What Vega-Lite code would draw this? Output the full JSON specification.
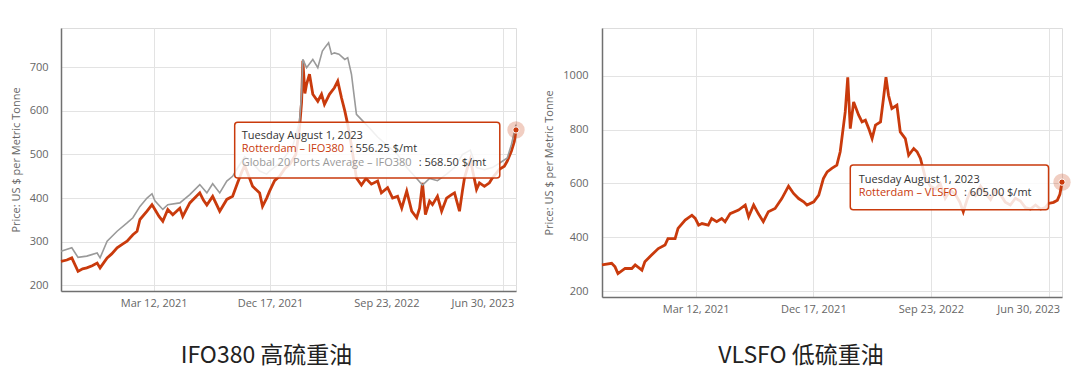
{
  "$schema": "https://vega.github.io/schema/vega-lite/v6.json",
  "background": "white",
  "padding": {"left": 9, "top": 27, "right": 10, "bottom": 5},
  "bounds": "flush",
  "spacing": 86,
  "config": {
    "font": "Open Sans",
    "view": {"stroke": "#dddddd"},
    "axis": {
      "labelFont": "Open Sans", "labelFontSize": 11, "labelColor": "#666666",
      "titleFont": "Open Sans", "titleFontSize": 11, "titleColor": "#666666", "titleFontWeight": "normal",
      "gridColor": "#e3e3e3", "domainColor": "#707070", "domainWidth": 1.5, "ticks": false
    },
    "title": {"font": "Noto Sans CJK SC", "fontSize": 23, "fontWeight": "normal", "color": "#222222"}
  },
  "datasets": {
    "ifo": [
      {"date": "2020-08-01", "series": "Rotterdam - IFO380", "price": 255},
      {"date": "2020-08-15", "series": "Rotterdam - IFO380", "price": 258},
      {"date": "2020-08-27", "series": "Rotterdam - IFO380", "price": 263},
      {"date": "2020-09-11", "series": "Rotterdam - IFO380", "price": 232},
      {"date": "2020-09-22", "series": "Rotterdam - IFO380", "price": 238},
      {"date": "2020-10-02", "series": "Rotterdam - IFO380", "price": 240},
      {"date": "2020-10-15", "series": "Rotterdam - IFO380", "price": 245},
      {"date": "2020-10-27", "series": "Rotterdam - IFO380", "price": 251},
      {"date": "2020-11-03", "series": "Rotterdam - IFO380", "price": 240},
      {"date": "2020-11-20", "series": "Rotterdam - IFO380", "price": 263},
      {"date": "2020-12-01", "series": "Rotterdam - IFO380", "price": 272},
      {"date": "2020-12-14", "series": "Rotterdam - IFO380", "price": 286},
      {"date": "2020-12-28", "series": "Rotterdam - IFO380", "price": 295},
      {"date": "2021-01-07", "series": "Rotterdam - IFO380", "price": 301},
      {"date": "2021-01-21", "series": "Rotterdam - IFO380", "price": 316},
      {"date": "2021-01-31", "series": "Rotterdam - IFO380", "price": 324},
      {"date": "2021-02-07", "series": "Rotterdam - IFO380", "price": 351},
      {"date": "2021-02-24", "series": "Rotterdam - IFO380", "price": 370},
      {"date": "2021-03-08", "series": "Rotterdam - IFO380", "price": 385},
      {"date": "2021-03-15", "series": "Rotterdam - IFO380", "price": 374},
      {"date": "2021-03-25", "series": "Rotterdam - IFO380", "price": 358},
      {"date": "2021-04-03", "series": "Rotterdam - IFO380", "price": 347},
      {"date": "2021-04-15", "series": "Rotterdam - IFO380", "price": 374},
      {"date": "2021-04-27", "series": "Rotterdam - IFO380", "price": 362},
      {"date": "2021-05-14", "series": "Rotterdam - IFO380", "price": 377},
      {"date": "2021-05-21", "series": "Rotterdam - IFO380", "price": 358},
      {"date": "2021-06-07", "series": "Rotterdam - IFO380", "price": 389},
      {"date": "2021-07-01", "series": "Rotterdam - IFO380", "price": 412},
      {"date": "2021-07-10", "series": "Rotterdam - IFO380", "price": 395},
      {"date": "2021-07-18", "series": "Rotterdam - IFO380", "price": 384},
      {"date": "2021-08-01", "series": "Rotterdam - IFO380", "price": 404},
      {"date": "2021-08-18", "series": "Rotterdam - IFO380", "price": 370},
      {"date": "2021-09-04", "series": "Rotterdam - IFO380", "price": 397},
      {"date": "2021-09-18", "series": "Rotterdam - IFO380", "price": 404},
      {"date": "2021-09-30", "series": "Rotterdam - IFO380", "price": 435},
      {"date": "2021-10-10", "series": "Rotterdam - IFO380", "price": 460},
      {"date": "2021-10-17", "series": "Rotterdam - IFO380", "price": 475},
      {"date": "2021-10-25", "series": "Rotterdam - IFO380", "price": 455},
      {"date": "2021-11-05", "series": "Rotterdam - IFO380", "price": 427},
      {"date": "2021-11-22", "series": "Rotterdam - IFO380", "price": 412},
      {"date": "2021-11-29", "series": "Rotterdam - IFO380", "price": 381},
      {"date": "2021-12-09", "series": "Rotterdam - IFO380", "price": 400},
      {"date": "2021-12-16", "series": "Rotterdam - IFO380", "price": 416},
      {"date": "2021-12-28", "series": "Rotterdam - IFO380", "price": 440},
      {"date": "2022-01-09", "series": "Rotterdam - IFO380", "price": 450},
      {"date": "2022-01-22", "series": "Rotterdam - IFO380", "price": 468},
      {"date": "2022-02-03", "series": "Rotterdam - IFO380", "price": 478},
      {"date": "2022-02-17", "series": "Rotterdam - IFO380", "price": 500},
      {"date": "2022-02-26", "series": "Rotterdam - IFO380", "price": 560},
      {"date": "2022-03-03", "series": "Rotterdam - IFO380", "price": 620},
      {"date": "2022-03-06", "series": "Rotterdam - IFO380", "price": 715},
      {"date": "2022-03-11", "series": "Rotterdam - IFO380", "price": 640},
      {"date": "2022-03-15", "series": "Rotterdam - IFO380", "price": 661},
      {"date": "2022-03-22", "series": "Rotterdam - IFO380", "price": 684},
      {"date": "2022-03-30", "series": "Rotterdam - IFO380", "price": 638},
      {"date": "2022-04-11", "series": "Rotterdam - IFO380", "price": 622},
      {"date": "2022-04-20", "series": "Rotterdam - IFO380", "price": 638},
      {"date": "2022-04-27", "series": "Rotterdam - IFO380", "price": 615},
      {"date": "2022-05-09", "series": "Rotterdam - IFO380", "price": 638},
      {"date": "2022-05-21", "series": "Rotterdam - IFO380", "price": 653},
      {"date": "2022-05-29", "series": "Rotterdam - IFO380", "price": 668},
      {"date": "2022-06-07", "series": "Rotterdam - IFO380", "price": 630},
      {"date": "2022-06-15", "series": "Rotterdam - IFO380", "price": 600},
      {"date": "2022-06-22", "series": "Rotterdam - IFO380", "price": 569},
      {"date": "2022-07-01", "series": "Rotterdam - IFO380", "price": 520},
      {"date": "2022-07-13", "series": "Rotterdam - IFO380", "price": 446},
      {"date": "2022-07-25", "series": "Rotterdam - IFO380", "price": 430},
      {"date": "2022-08-05", "series": "Rotterdam - IFO380", "price": 445},
      {"date": "2022-08-18", "series": "Rotterdam - IFO380", "price": 432},
      {"date": "2022-09-02", "series": "Rotterdam - IFO380", "price": 439},
      {"date": "2022-09-11", "series": "Rotterdam - IFO380", "price": 412},
      {"date": "2022-09-26", "series": "Rotterdam - IFO380", "price": 424},
      {"date": "2022-10-08", "series": "Rotterdam - IFO380", "price": 400},
      {"date": "2022-10-20", "series": "Rotterdam - IFO380", "price": 404},
      {"date": "2022-10-30", "series": "Rotterdam - IFO380", "price": 377},
      {"date": "2022-11-11", "series": "Rotterdam - IFO380", "price": 416},
      {"date": "2022-11-23", "series": "Rotterdam - IFO380", "price": 370},
      {"date": "2022-12-05", "series": "Rotterdam - IFO380", "price": 355},
      {"date": "2022-12-12", "series": "Rotterdam - IFO380", "price": 377},
      {"date": "2022-12-19", "series": "Rotterdam - IFO380", "price": 435},
      {"date": "2022-12-26", "series": "Rotterdam - IFO380", "price": 362},
      {"date": "2023-01-05", "series": "Rotterdam - IFO380", "price": 393},
      {"date": "2023-01-12", "series": "Rotterdam - IFO380", "price": 385},
      {"date": "2023-01-24", "series": "Rotterdam - IFO380", "price": 404},
      {"date": "2023-02-03", "series": "Rotterdam - IFO380", "price": 370},
      {"date": "2023-02-15", "series": "Rotterdam - IFO380", "price": 400},
      {"date": "2023-02-27", "series": "Rotterdam - IFO380", "price": 408},
      {"date": "2023-03-06", "series": "Rotterdam - IFO380", "price": 412},
      {"date": "2023-03-18", "series": "Rotterdam - IFO380", "price": 370},
      {"date": "2023-03-25", "series": "Rotterdam - IFO380", "price": 416},
      {"date": "2023-03-30", "series": "Rotterdam - IFO380", "price": 446},
      {"date": "2023-04-06", "series": "Rotterdam - IFO380", "price": 469},
      {"date": "2023-04-13", "series": "Rotterdam - IFO380", "price": 489},
      {"date": "2023-04-28", "series": "Rotterdam - IFO380", "price": 420},
      {"date": "2023-05-05", "series": "Rotterdam - IFO380", "price": 435},
      {"date": "2023-05-17", "series": "Rotterdam - IFO380", "price": 427},
      {"date": "2023-05-29", "series": "Rotterdam - IFO380", "price": 435},
      {"date": "2023-06-05", "series": "Rotterdam - IFO380", "price": 446},
      {"date": "2023-06-22", "series": "Rotterdam - IFO380", "price": 466},
      {"date": "2023-07-04", "series": "Rotterdam - IFO380", "price": 473},
      {"date": "2023-07-11", "series": "Rotterdam - IFO380", "price": 485},
      {"date": "2023-07-21", "series": "Rotterdam - IFO380", "price": 508},
      {"date": "2023-07-28", "series": "Rotterdam - IFO380", "price": 530},
      {"date": "2023-08-01", "series": "Rotterdam - IFO380", "price": 556.25},
      {"date": "2020-08-01", "series": "Global 20 Ports Average - IFO380", "price": 278},
      {"date": "2020-08-27", "series": "Global 20 Ports Average - IFO380", "price": 286},
      {"date": "2020-09-11", "series": "Global 20 Ports Average - IFO380", "price": 264},
      {"date": "2020-10-02", "series": "Global 20 Ports Average - IFO380", "price": 267},
      {"date": "2020-10-27", "series": "Global 20 Ports Average - IFO380", "price": 274},
      {"date": "2020-11-03", "series": "Global 20 Ports Average - IFO380", "price": 263},
      {"date": "2020-11-20", "series": "Global 20 Ports Average - IFO380", "price": 301},
      {"date": "2020-12-14", "series": "Global 20 Ports Average - IFO380", "price": 324},
      {"date": "2021-01-07", "series": "Global 20 Ports Average - IFO380", "price": 343},
      {"date": "2021-01-21", "series": "Global 20 Ports Average - IFO380", "price": 355},
      {"date": "2021-02-07", "series": "Global 20 Ports Average - IFO380", "price": 381},
      {"date": "2021-02-24", "series": "Global 20 Ports Average - IFO380", "price": 400},
      {"date": "2021-03-08", "series": "Global 20 Ports Average - IFO380", "price": 410},
      {"date": "2021-03-15", "series": "Global 20 Ports Average - IFO380", "price": 394},
      {"date": "2021-04-03", "series": "Global 20 Ports Average - IFO380", "price": 374},
      {"date": "2021-04-15", "series": "Global 20 Ports Average - IFO380", "price": 385},
      {"date": "2021-05-14", "series": "Global 20 Ports Average - IFO380", "price": 389},
      {"date": "2021-06-07", "series": "Global 20 Ports Average - IFO380", "price": 408},
      {"date": "2021-07-01", "series": "Global 20 Ports Average - IFO380", "price": 431},
      {"date": "2021-07-18", "series": "Global 20 Ports Average - IFO380", "price": 412},
      {"date": "2021-08-01", "series": "Global 20 Ports Average - IFO380", "price": 433},
      {"date": "2021-08-18", "series": "Global 20 Ports Average - IFO380", "price": 412},
      {"date": "2021-09-04", "series": "Global 20 Ports Average - IFO380", "price": 439},
      {"date": "2021-09-18", "series": "Global 20 Ports Average - IFO380", "price": 450},
      {"date": "2021-09-30", "series": "Global 20 Ports Average - IFO380", "price": 469},
      {"date": "2021-10-17", "series": "Global 20 Ports Average - IFO380", "price": 495},
      {"date": "2021-11-05", "series": "Global 20 Ports Average - IFO380", "price": 480},
      {"date": "2021-11-22", "series": "Global 20 Ports Average - IFO380", "price": 462},
      {"date": "2021-12-09", "series": "Global 20 Ports Average - IFO380", "price": 455},
      {"date": "2021-12-16", "series": "Global 20 Ports Average - IFO380", "price": 462},
      {"date": "2022-01-09", "series": "Global 20 Ports Average - IFO380", "price": 480},
      {"date": "2022-01-22", "series": "Global 20 Ports Average - IFO380", "price": 495},
      {"date": "2022-02-10", "series": "Global 20 Ports Average - IFO380", "price": 520},
      {"date": "2022-02-26", "series": "Global 20 Ports Average - IFO380", "price": 575},
      {"date": "2022-03-03", "series": "Global 20 Ports Average - IFO380", "price": 640},
      {"date": "2022-03-06", "series": "Global 20 Ports Average - IFO380", "price": 718},
      {"date": "2022-03-15", "series": "Global 20 Ports Average - IFO380", "price": 699},
      {"date": "2022-03-30", "series": "Global 20 Ports Average - IFO380", "price": 718},
      {"date": "2022-04-11", "series": "Global 20 Ports Average - IFO380", "price": 699},
      {"date": "2022-04-22", "series": "Global 20 Ports Average - IFO380", "price": 737},
      {"date": "2022-05-01", "series": "Global 20 Ports Average - IFO380", "price": 749},
      {"date": "2022-05-07", "series": "Global 20 Ports Average - IFO380", "price": 756},
      {"date": "2022-05-14", "series": "Global 20 Ports Average - IFO380", "price": 730},
      {"date": "2022-05-21", "series": "Global 20 Ports Average - IFO380", "price": 733},
      {"date": "2022-06-01", "series": "Global 20 Ports Average - IFO380", "price": 730},
      {"date": "2022-06-15", "series": "Global 20 Ports Average - IFO380", "price": 718},
      {"date": "2022-06-22", "series": "Global 20 Ports Average - IFO380", "price": 722},
      {"date": "2022-07-01", "series": "Global 20 Ports Average - IFO380", "price": 684},
      {"date": "2022-07-07", "series": "Global 20 Ports Average - IFO380", "price": 638},
      {"date": "2022-07-13", "series": "Global 20 Ports Average - IFO380", "price": 592},
      {"date": "2022-07-28", "series": "Global 20 Ports Average - IFO380", "price": 577},
      {"date": "2022-08-14", "series": "Global 20 Ports Average - IFO380", "price": 560},
      {"date": "2022-09-02", "series": "Global 20 Ports Average - IFO380", "price": 540},
      {"date": "2022-09-26", "series": "Global 20 Ports Average - IFO380", "price": 520},
      {"date": "2022-10-20", "series": "Global 20 Ports Average - IFO380", "price": 500},
      {"date": "2022-11-11", "series": "Global 20 Ports Average - IFO380", "price": 470},
      {"date": "2022-12-05", "series": "Global 20 Ports Average - IFO380", "price": 445},
      {"date": "2022-12-19", "series": "Global 20 Ports Average - IFO380", "price": 430},
      {"date": "2023-01-05", "series": "Global 20 Ports Average - IFO380", "price": 445},
      {"date": "2023-01-24", "series": "Global 20 Ports Average - IFO380", "price": 440},
      {"date": "2023-02-15", "series": "Global 20 Ports Average - IFO380", "price": 455},
      {"date": "2023-03-06", "series": "Global 20 Ports Average - IFO380", "price": 470},
      {"date": "2023-03-25", "series": "Global 20 Ports Average - IFO380", "price": 500},
      {"date": "2023-04-13", "series": "Global 20 Ports Average - IFO380", "price": 510},
      {"date": "2023-04-28", "series": "Global 20 Ports Average - IFO380", "price": 470},
      {"date": "2023-05-17", "series": "Global 20 Ports Average - IFO380", "price": 465},
      {"date": "2023-06-05", "series": "Global 20 Ports Average - IFO380", "price": 470},
      {"date": "2023-06-22", "series": "Global 20 Ports Average - IFO380", "price": 480},
      {"date": "2023-07-11", "series": "Global 20 Ports Average - IFO380", "price": 492},
      {"date": "2023-07-21", "series": "Global 20 Ports Average - IFO380", "price": 523},
      {"date": "2023-08-01", "series": "Global 20 Ports Average - IFO380", "price": 568.5}
    ],
    "vlsfo": [
      {"date": "2020-08-01", "price": 297}, {"date": "2020-08-24", "price": 303},
      {"date": "2020-09-01", "price": 290}, {"date": "2020-09-08", "price": 265},
      {"date": "2020-09-25", "price": 284}, {"date": "2020-10-11", "price": 284},
      {"date": "2020-10-19", "price": 297}, {"date": "2020-11-04", "price": 278},
      {"date": "2020-11-11", "price": 309}, {"date": "2020-11-27", "price": 334},
      {"date": "2020-12-13", "price": 358}, {"date": "2020-12-29", "price": 371},
      {"date": "2021-01-05", "price": 395}, {"date": "2021-01-22", "price": 395},
      {"date": "2021-01-29", "price": 433}, {"date": "2021-02-15", "price": 464},
      {"date": "2021-03-03", "price": 482}, {"date": "2021-03-11", "price": 470},
      {"date": "2021-03-19", "price": 445}, {"date": "2021-03-27", "price": 451},
      {"date": "2021-04-11", "price": 445}, {"date": "2021-04-19", "price": 470},
      {"date": "2021-05-01", "price": 458}, {"date": "2021-05-13", "price": 470},
      {"date": "2021-05-21", "price": 458}, {"date": "2021-06-02", "price": 488},
      {"date": "2021-06-22", "price": 501}, {"date": "2021-07-08", "price": 520},
      {"date": "2021-07-16", "price": 476}, {"date": "2021-07-28", "price": 520},
      {"date": "2021-08-08", "price": 488}, {"date": "2021-08-20", "price": 458},
      {"date": "2021-09-01", "price": 495}, {"date": "2021-09-17", "price": 507},
      {"date": "2021-10-03", "price": 544}, {"date": "2021-10-19", "price": 590},
      {"date": "2021-10-31", "price": 563}, {"date": "2021-11-12", "price": 544},
      {"date": "2021-11-24", "price": 532}, {"date": "2021-12-02", "price": 520},
      {"date": "2021-12-18", "price": 532}, {"date": "2021-12-30", "price": 557},
      {"date": "2022-01-10", "price": 618}, {"date": "2022-01-19", "price": 643},
      {"date": "2022-01-30", "price": 656}, {"date": "2022-02-11", "price": 668},
      {"date": "2022-02-19", "price": 718}, {"date": "2022-03-03", "price": 866},
      {"date": "2022-03-09", "price": 995}, {"date": "2022-03-15", "price": 804},
      {"date": "2022-03-23", "price": 903}, {"date": "2022-04-04", "price": 854},
      {"date": "2022-04-12", "price": 829}, {"date": "2022-04-20", "price": 835},
      {"date": "2022-04-28", "price": 804}, {"date": "2022-05-06", "price": 767},
      {"date": "2022-05-14", "price": 817}, {"date": "2022-05-26", "price": 829},
      {"date": "2022-06-02", "price": 916}, {"date": "2022-06-08", "price": 995},
      {"date": "2022-06-14", "price": 928}, {"date": "2022-06-22", "price": 879},
      {"date": "2022-07-04", "price": 891}, {"date": "2022-07-12", "price": 792},
      {"date": "2022-07-24", "price": 767}, {"date": "2022-08-01", "price": 705},
      {"date": "2022-08-13", "price": 730}, {"date": "2022-08-21", "price": 718},
      {"date": "2022-08-29", "price": 693}, {"date": "2022-09-10", "price": 620},
      {"date": "2022-09-22", "price": 590}, {"date": "2022-10-04", "price": 580},
      {"date": "2022-10-15", "price": 600}, {"date": "2022-10-27", "price": 545},
      {"date": "2022-11-08", "price": 575}, {"date": "2022-11-20", "price": 560},
      {"date": "2022-12-01", "price": 530}, {"date": "2022-12-09", "price": 495},
      {"date": "2022-12-18", "price": 540}, {"date": "2022-12-26", "price": 570},
      {"date": "2023-01-07", "price": 555}, {"date": "2023-01-19", "price": 590},
      {"date": "2023-02-01", "price": 560}, {"date": "2023-02-12", "price": 540},
      {"date": "2023-02-24", "price": 575}, {"date": "2023-03-07", "price": 560},
      {"date": "2023-03-19", "price": 530}, {"date": "2023-03-31", "price": 520},
      {"date": "2023-04-12", "price": 545}, {"date": "2023-04-24", "price": 535},
      {"date": "2023-05-06", "price": 510}, {"date": "2023-05-18", "price": 505},
      {"date": "2023-05-30", "price": 520}, {"date": "2023-06-11", "price": 505},
      {"date": "2023-06-22", "price": 510}, {"date": "2023-06-30", "price": 526},
      {"date": "2023-07-12", "price": 530}, {"date": "2023-07-21", "price": 538},
      {"date": "2023-07-27", "price": 560}, {"date": "2023-08-01", "price": 605}
    ]
  },
  "hconcat": [
    {
      "width": 455,
      "height": 263,
      "title": {"text": "IFO380 高硫重油", "orient": "bottom", "anchor": "middle", "offset": 37, "dx": -22},
      "layer": [
        {
          "data": {"name": "ifo"},
          "mark": {"type": "line", "interpolate": "linear"},
          "encoding": {
            "x": {
              "field": "date", "type": "temporal",
              "scale": {"type": "utc", "domain": [{"year": 2020, "month": 8, "date": 1, "utc": true}, {"year": 2023, "month": 8, "date": 1, "utc": true}]},
              "axis": {
                "title": null, "format": "%b %d, %Y", "grid": true, "labelPadding": 6,
                "labelFlush": 20, "labelFlushOffset": 11,
                "values": [
                  {"year": 2021, "month": 3, "date": 12, "utc": true},
                  {"year": 2021, "month": 12, "date": 17, "utc": true},
                  {"year": 2022, "month": 9, "date": 23, "utc": true},
                  {"year": 2023, "month": 6, "date": 30, "utc": true}
                ]
              }
            },
            "y": {
              "field": "price", "type": "quantitative",
              "scale": {"domain": [187, 790], "nice": false, "zero": false},
              "axis": {"title": "Price: US $ per Metric Tonne", "format": "d", "values": [200, 300, 400, 500, 600, 700], "labelPadding": 13, "titlePadding": 8}
            },
            "color": {"field": "series", "type": "nominal", "legend": null,
              "scale": {"domain": ["Global 20 Ports Average - IFO380", "Rotterdam - IFO380"], "range": ["#9a9a9a", "#c93a0c"]}},
            "strokeWidth": {"field": "series", "type": "nominal", "legend": null,
              "scale": {"domain": ["Global 20 Ports Average - IFO380", "Rotterdam - IFO380"], "range": [1.6, 2.8]}}
          }
        },
        {
          "data": {"values": [{"date": "2023-08-01", "price": 556.25}]},
          "mark": {"type": "point", "filled": true, "color": "#c93a0c", "opacity": 0.25, "size": 300},
          "encoding": {"x": {"field": "date", "type": "temporal"}, "y": {"field": "price", "type": "quantitative"}}
        },
        {
          "data": {"values": [{"date": "2023-08-01", "price": 556.25}]},
          "mark": {"type": "point", "filled": true, "color": "#c93a0c", "opacity": 1, "size": 40, "stroke": "white", "strokeWidth": 1},
          "encoding": {"x": {"field": "date", "type": "temporal"}, "y": {"field": "price", "type": "quantitative"}}
        },
        {
          "data": {"values": [{"start": "2021-09-23", "end": "2023-06-23", "top": 574, "bottom": 446}]},
          "mark": {"type": "rect", "fill": "#ffffff", "fillOpacity": 0.85, "stroke": "#c93a0c", "strokeWidth": 1.5, "cornerRadius": 3},
          "encoding": {
            "x": {"field": "start", "type": "temporal"}, "x2": {"field": "end"},
            "y": {"field": "top", "type": "quantitative"}, "y2": {"field": "bottom"}
          }
        },
        {
          "data": {"values": [
            {"date": "2021-10-10", "price": 542, "label": "Tuesday August 1, 2023"},
            {"date": "2022-06-27", "price": 512, "label": ": 556.25 $/mt"},
            {"date": "2022-12-10", "price": 480, "label": ": 568.50 $/mt"}
          ]},
          "mark": {"type": "text", "align": "left", "baseline": "middle", "font": "Open Sans", "fontSize": 11, "color": "#333333"},
          "encoding": {"x": {"field": "date", "type": "temporal"}, "y": {"field": "price", "type": "quantitative"}, "text": {"field": "label"}}
        },
        {
          "data": {"values": [{"date": "2021-10-10", "price": 512, "label": "Rotterdam – IFO380"}]},
          "mark": {"type": "text", "align": "left", "baseline": "middle", "font": "Open Sans", "fontSize": 11, "color": "#c93a0c"},
          "encoding": {"x": {"field": "date", "type": "temporal"}, "y": {"field": "price", "type": "quantitative"}, "text": {"field": "label"}}
        },
        {
          "data": {"values": [{"date": "2021-10-10", "price": 480, "label": "Global 20 Ports Average – IFO380"}]},
          "mark": {"type": "text", "align": "left", "baseline": "middle", "font": "Open Sans", "fontSize": 11, "color": "#999999"},
          "encoding": {"x": {"field": "date", "type": "temporal"}, "y": {"field": "price", "type": "quantitative"}, "text": {"field": "label"}}
        }
      ]
    },
    {
      "width": 460,
      "height": 269,
      "title": {"text": "VLSFO 低硫重油", "orient": "bottom", "anchor": "middle", "offset": 31, "dx": -31},
      "layer": [
        {
          "data": {"name": "vlsfo"},
          "mark": {"type": "line", "color": "#c93a0c", "strokeWidth": 2.8},
          "encoding": {
            "x": {
              "field": "date", "type": "temporal",
              "scale": {"type": "utc", "domain": [{"year": 2020, "month": 8, "date": 1, "utc": true}, {"year": 2023, "month": 8, "date": 1, "utc": true}]},
              "axis": {
                "title": null, "format": "%b %d, %Y", "grid": true, "labelPadding": 6,
                "labelFlush": 20, "labelFlushOffset": 11,
                "values": [
                  {"year": 2021, "month": 3, "date": 12, "utc": true},
                  {"year": 2021, "month": 12, "date": 17, "utc": true},
                  {"year": 2022, "month": 9, "date": 23, "utc": true},
                  {"year": 2023, "month": 6, "date": 30, "utc": true}
                ]
              }
            },
            "y": {
              "field": "price", "type": "quantitative",
              "scale": {"domain": [178, 1178], "nice": false, "zero": false},
              "axis": {"title": "Price: US $ per Metric Tonne", "format": "d", "values": [200, 400, 600, 800, 1000], "labelPadding": 14, "titlePadding": 8}
            }
          }
        },
        {
          "data": {"values": [{"date": "2023-08-01", "price": 605}]},
          "mark": {"type": "point", "filled": true, "color": "#c93a0c", "opacity": 0.25, "size": 300},
          "encoding": {"x": {"field": "date", "type": "temporal"}, "y": {"field": "price", "type": "quantitative"}}
        },
        {
          "data": {"values": [{"date": "2023-08-01", "price": 605}]},
          "mark": {"type": "point", "filled": true, "color": "#c93a0c", "opacity": 1, "size": 40, "stroke": "white", "strokeWidth": 1},
          "encoding": {"x": {"field": "date", "type": "temporal"}, "y": {"field": "price", "type": "quantitative"}}
        },
        {
          "data": {"values": [{"start": "2022-03-15", "end": "2023-06-30", "top": 669, "bottom": 502}]},
          "mark": {"type": "rect", "fill": "#ffffff", "fillOpacity": 0.85, "stroke": "#c93a0c", "strokeWidth": 1.5, "cornerRadius": 3},
          "encoding": {
            "x": {"field": "start", "type": "temporal"}, "x2": {"field": "end"},
            "y": {"field": "top", "type": "quantitative"}, "y2": {"field": "bottom"}
          }
        },
        {
          "data": {"values": [
            {"date": "2022-04-04", "price": 614, "label": "Tuesday August 1, 2023"},
            {"date": "2022-12-11", "price": 565, "label": ": 605.00 $/mt"}
          ]},
          "mark": {"type": "text", "align": "left", "baseline": "middle", "font": "Open Sans", "fontSize": 11, "color": "#333333"},
          "encoding": {"x": {"field": "date", "type": "temporal"}, "y": {"field": "price", "type": "quantitative"}, "text": {"field": "label"}}
        },
        {
          "data": {"values": [{"date": "2022-04-04", "price": 565, "label": "Rotterdam – VLSFO"}]},
          "mark": {"type": "text", "align": "left", "baseline": "middle", "font": "Open Sans", "fontSize": 11, "color": "#c93a0c"},
          "encoding": {"x": {"field": "date", "type": "temporal"}, "y": {"field": "price", "type": "quantitative"}, "text": {"field": "label"}}
        }
      ]
    }
  ]
}
